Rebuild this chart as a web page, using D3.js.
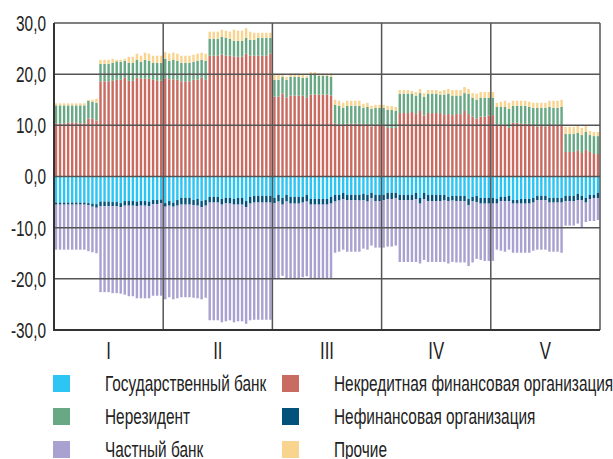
<!DOCTYPE html>
<html>
<head>
<meta charset="utf-8">
<script src="https://cdn.jsdelivr.net/npm/d3@7"></script>
<style>
  body { margin: 0; background: #fff; }
  text { font-family: "Liberation Sans", Arial, sans-serif; fill: #222; }
</style>
</head>
<body>
<div id="chart"></div>
<script>
var periods = ["I", "II", "III", "IV", "V"];
var barsPerPeriod = 27;

// Государственный банк
var gov = [
  -5.1,-5.1,-5.1,-5.1,-5.1,-5.1,-5.1,-5.1,-5.2,-5.3,-5.4,-4.9,-4.9,-4.9,-5.0,-5.0,-5.2,-4.8,-4.8,-4.8,-4.9,-4.8,-4.8,-4.9,-4.6,-4.6,-4.5,
  -5.2,-4.8,-5.1,-4.6,-4.2,-4.2,-4.2,-4.6,-4.4,-4.8,-4.6,-4.0,-4.0,-4.0,-4.4,-4.2,-4.2,-4.4,-4.2,-4.2,-4.8,-4.0,-3.8,-3.8,-3.8,-3.8,-3.8,
  -4.2,-3.6,-4.2,-3.6,-4.0,-4.0,-4.0,-4.0,-3.6,-4.4,-4.4,-4.4,-4.4,-4.4,-4.0,-3.6,-3.6,-3.2,-3.6,-3.6,-3.6,-3.6,-3.4,-3.6,-3.2,-3.6,-3.6,
  -3.6,-3.2,-3.2,-3.2,-3.6,-3.6,-3.6,-3.6,-3.2,-4.2,-3.2,-3.6,-3.6,-3.6,-3.6,-3.6,-4.0,-3.8,-3.8,-3.8,-3.8,-4.4,-4.0,-3.8,-4.2,-4.2,-4.2,
  -4.2,-4.4,-4.0,-4.0,-3.8,-4.6,-4.6,-4.4,-4.4,-4.4,-4.2,-3.8,-3.8,-3.8,-4.2,-4.2,-4.2,-4.2,-3.8,-3.8,-3.8,-3.4,-3.8,-4.2,-3.6,-3.6,-3.2
];
// Некредитная финансовая организация
var noncredit = [
  10.4,10.3,10.4,10.5,10.6,10.5,10.4,10.4,11.3,11.3,10.9,18.6,18.6,18.6,18.7,18.9,18.9,19.3,18.7,18.7,19.3,19.1,19.1,19.1,18.9,18.7,18.7,
  19.2,19.0,19.0,18.9,18.6,18.6,18.6,18.9,18.9,19.3,18.9,23.6,23.6,23.6,23.8,23.6,23.6,23.4,23.4,23.4,24.0,23.6,23.6,23.6,23.6,23.6,24.0,
  15.6,15.6,16.2,15.4,15.8,15.8,15.8,15.8,15.4,16.0,16.0,16.0,16.0,16.0,15.8,10.4,10.1,9.9,10.3,10.3,10.3,10.3,9.9,10.3,9.8,10.1,10.1,
  10.1,9.5,9.5,9.5,12.4,12.4,12.4,12.6,12.2,12.8,11.9,12.4,12.4,12.4,12.4,12.0,12.2,12.0,12.2,12.2,12.8,12.2,11.7,11.3,11.7,11.7,11.9,
  12.0,10.1,10.1,10.1,9.5,10.5,10.5,10.3,10.3,10.3,9.9,9.7,9.9,9.7,9.9,10.1,10.1,10.1,4.8,4.8,4.8,5.0,4.6,5.2,4.8,4.4,4.4
];
// Нерезидент
var nonres = [
  3.5,3.6,3.5,3.4,3.3,3.4,3.5,3.5,3.5,3.3,3.5,3.4,3.4,3.4,3.5,3.6,3.5,3.3,3.5,3.5,3.5,3.3,3.7,3.5,3.3,3.5,3.5,
  3.8,3.6,3.8,3.7,3.6,3.6,3.6,3.5,3.7,3.5,3.7,3.3,3.3,3.3,3.5,3.5,3.3,3.1,3.1,3.1,3.1,3.1,3.1,3.5,3.5,3.5,3.1,
  3.3,3.3,3.3,3.5,3.7,3.7,3.7,3.5,3.9,3.9,3.9,3.7,3.7,3.7,3.7,3.6,3.7,3.5,3.5,3.5,3.5,3.5,3.5,3.3,3.4,3.3,3.3,
  3.3,3.5,3.5,3.3,3.8,3.8,3.8,3.6,3.6,3.5,3.7,3.8,3.8,3.8,3.6,4.0,4.0,3.8,3.6,3.6,3.5,4.0,3.7,3.7,3.7,3.7,3.5,
  3.4,3.5,3.5,3.5,3.7,3.3,3.3,3.5,3.5,3.3,3.5,3.7,3.5,3.7,3.7,3.3,3.3,3.5,3.5,3.5,3.5,3.5,3.5,3.5,3.3,3.5,3.5
];
// Нефинансовая организация
var nonfin = [
  -0.4,-0.4,-0.4,-0.4,-0.4,-0.4,-0.4,-0.4,-0.4,-0.6,-0.7,-0.9,-0.9,-0.9,-0.8,-0.8,-0.8,-0.9,-0.9,-0.9,-0.9,-0.9,-0.9,-0.9,-0.8,-0.8,-0.7,
  -0.7,-0.9,-0.8,-1.1,-1.3,-1.3,-1.3,-1.0,-1.3,-1.2,-1.1,-1.1,-1.1,-1.1,-1.1,-1.0,-1.1,-1.1,-1.3,-1.3,-1.2,-1.3,-1.3,-1.3,-1.3,-1.3,-1.3,
  -1.0,-1.3,-1.3,-1.3,-1.3,-1.3,-1.3,-1.1,-1.3,-1.1,-1.1,-1.1,-1.1,-1.1,-1.3,-1.3,-1.1,-1.2,-1.0,-1.0,-1.0,-1.1,-1.2,-1.3,-1.0,-1.2,-1.2,
  -1.0,-1.2,-1.2,-1.0,-1.0,-1.0,-1.0,-1.0,-1.2,-1.1,-1.2,-1.2,-1.2,-1.2,-1.2,-1.1,-0.8,-0.9,-1.0,-1.0,-1.0,-1.2,-0.8,-1.2,-1.1,-1.1,-1.1,
  -1.1,-0.9,-0.8,-0.8,-1.0,-0.7,-0.7,-0.9,-0.9,-0.9,-0.9,-0.8,-0.8,-0.8,-0.9,-0.9,-0.9,-0.9,-1.0,-1.0,-1.0,-1.2,-0.8,-0.9,-0.8,-0.6,-1.0
];
// Частный банк
var priv = [
  -8.8,-8.8,-8.8,-8.8,-8.8,-8.8,-8.8,-8.8,-9.0,-8.9,-8.9,-16.8,-16.8,-16.8,-17.0,-17.0,-16.9,-17.4,-17.7,-17.7,-18.0,-18.1,-18.1,-18.0,-17.9,-17.9,-18.1,
  -18.1,-17.9,-18.1,-18.1,-18.1,-18.1,-18.1,-18.1,-18.1,-18.0,-18.0,-23.0,-23.0,-23.0,-23.0,-23.1,-22.8,-23.0,-22.8,-22.8,-22.8,-22.8,-22.9,-22.9,-22.9,-22.9,-22.9,
  -14.8,-15.1,-13.9,-15.1,-14.7,-14.7,-14.7,-14.6,-14.6,-14.5,-14.5,-14.5,-14.5,-14.5,-14.7,-10.0,-10.0,-9.9,-10.1,-10.1,-10.1,-10.0,-9.5,-9.4,-9.3,-9.1,-9.1,
  -9.3,-9.3,-9.3,-9.3,-12.1,-12.1,-12.1,-12.1,-12.3,-11.7,-11.9,-11.9,-11.9,-11.9,-11.9,-12.0,-12.2,-12.0,-12.0,-12.0,-12.0,-11.9,-12.0,-11.1,-11.0,-11.2,-11.2,
  -11.2,-9.0,-9.7,-9.9,-9.5,-9.6,-9.6,-9.6,-9.6,-9.6,-9.4,-9.7,-9.7,-9.7,-9.6,-9.6,-9.6,-9.8,-4.8,-4.8,-4.8,-4.6,-5.4,-3.8,-4.3,-4.5,-4.3
];
// Прочие
var other = [
  0.4,0.4,0.4,0.4,0.4,0.4,0.4,0.4,0.2,0.4,0.8,0.8,0.8,0.8,0.8,0.3,0.4,0.4,1.2,1.2,1.2,1.2,1.4,1.4,1.4,1.4,1.4,
  1.3,1.4,1.4,1.4,1.4,1.4,1.4,1.4,1.4,1.4,1.4,1.4,1.4,1.4,1.4,1.4,1.4,2.2,2.0,2.0,1.9,1.6,1.4,1.0,1.0,1.0,1.0,
  1.0,1.0,0.6,0.6,0.6,0.6,0.6,0.6,0.4,0.5,0.5,0.4,0.4,0.4,0.6,1.0,1.0,1.0,1.0,1.0,1.0,1.0,0.8,0.8,0.6,0.6,0.6,
  0.6,0.8,0.8,0.8,0.7,0.7,0.7,0.5,0.7,0.8,0.7,0.7,0.7,0.7,0.7,0.9,0.9,1.1,1.1,1.1,1.2,0.9,0.9,1.2,1.1,1.1,1.1,
  1.1,0.8,1.0,1.2,1.2,1.0,1.0,1.0,1.0,1.0,1.0,1.0,1.0,1.0,1.2,1.4,1.4,1.4,1.4,1.4,1.4,1.4,1.4,1.2,0.8,0.8,0.8
];
var yTicks = [-30, -20, -10, 0, 10, 20, 30];

var series = [
  {key: "gov",       name: "Государственный банк",               color: "#2cc5f4", values: gov},
  {key: "noncredit", name: "Некредитная финансовая организация", color: "#c96b61", values: noncredit},
  {key: "nonres",    name: "Нерезидент",                          color: "#68a884", values: nonres},
  {key: "nonfin",    name: "Нефинансовая организация",            color: "#02527b", values: nonfin},
  {key: "priv",      name: "Частный банк",                        color: "#a9a2d0", values: priv},
  {key: "other",     name: "Прочие",                              color: "#f8d48f", values: other}
];

var width = 613, height = 459;
var plot = {left: 54, right: 600, top: 23, bottom: 330};
var condense = 0.7;

var categories = d3.range(periods.length * barsPerPeriod);
var table = categories.map(function(i) {
  var row = {i: i};
  series.forEach(function(s) { row[s.key] = s.values[i]; });
  return row;
});

var stacked = d3.stack()
  .keys(series.map(function(s) { return s.key; }))
  .offset(d3.stackOffsetDiverging)(table);

var svg = d3.select("#chart")
  .append("svg")
    .attr("width", width)
    .attr("height", height);

var x = d3.scaleBand()
  .domain(categories)
  .range([plot.left, plot.right])
  .paddingInner(0.4)
  .paddingOuter(0.2);

var y = d3.scaleLinear()
  .domain([-30, 30])
  .range([plot.bottom, plot.top]);

// bars
svg.append("g")
  .selectAll("g")
  .data(stacked)
  .enter()
  .append("g")
    .attr("fill", function(d, k) { return series[k].color; })
  .selectAll("rect")
  .data(function(d) { return d; })
  .enter()
  .append("rect")
    .attr("x", function(d) { return x(d.data.i); })
    .attr("y", function(d) { return y(Math.max(d[0], d[1])); })
    .attr("width", x.bandwidth())
    .attr("height", function(d) { return Math.abs(y(d[0]) - y(d[1])); });

// grid on top of bars
var grid = svg.append("g")
  .attr("stroke", "#555")
  .attr("stroke-width", 1.5);

grid.selectAll("line.h")
  .data(yTicks)
  .enter()
  .append("line")
    .attr("class", "h")
    .attr("x1", plot.left).attr("x2", plot.right)
    .attr("y1", function(d) { return y(d); })
    .attr("y2", function(d) { return y(d); });

var boundaries = d3.range(1, periods.length + 1).map(function(k) {
  return plot.left + x.step() * barsPerPeriod * k;
});
grid.selectAll("line.v")
  .data(boundaries)
  .enter()
  .append("line")
    .attr("class", "v")
    .attr("x1", function(d) { return d; }).attr("x2", function(d) { return d; })
    .attr("y1", plot.top).attr("y2", plot.bottom);

// axes
svg.append("line")
  .attr("x1", plot.left).attr("x2", plot.left)
  .attr("y1", plot.top).attr("y2", plot.bottom + 1)
  .attr("stroke", "#333").attr("stroke-width", 2);
svg.append("line")
  .attr("x1", plot.left).attr("x2", plot.right)
  .attr("y1", plot.bottom).attr("y2", plot.bottom)
  .attr("stroke", "#333").attr("stroke-width", 2);

// y labels
var fmt = function(v) { return d3.format(".1f")(v).replace(".", ",").replace("−", "-"); };
svg.append("g")
  .selectAll("text")
  .data(yTicks)
  .enter()
  .append("text")
    .attr("transform", function(d) { return "translate(46," + y(d) + ") scale(" + condense + ",1)"; })
    .attr("dy", "0.36em")
    .attr("text-anchor", "end")
    .style("font-size", "22px")
    .text(fmt);

// period labels
svg.append("g")
  .selectAll("text")
  .data(periods)
  .enter()
  .append("text")
    .attr("transform", function(d, k) {
      var cx = plot.left + x.step() * barsPerPeriod * (k + 0.5);
      return "translate(" + cx + ",359) scale(" + condense + ",1)";
    })
    .attr("text-anchor", "middle")
    .style("font-size", "24px")
    .text(function(d) { return d; });

// legend
var legend = svg.append("g")
  .selectAll("g")
  .data(series)
  .enter()
  .append("g")
    .attr("transform", function(d, k) {
      return "translate(" + (k % 2 ? 282 : 53) + "," + (375 + Math.floor(k / 2) * 33) + ")";
    });

legend.append("rect")
  .attr("width", 17)
  .attr("height", 17)
  .attr("fill", function(d) { return d.color; });

legend.append("text")
  .attr("transform", "translate(52,16) scale(" + condense + ",1)")
  .style("font-size", "22px")
  .text(function(d) { return d.name; });
</script>
</body>
</html>
